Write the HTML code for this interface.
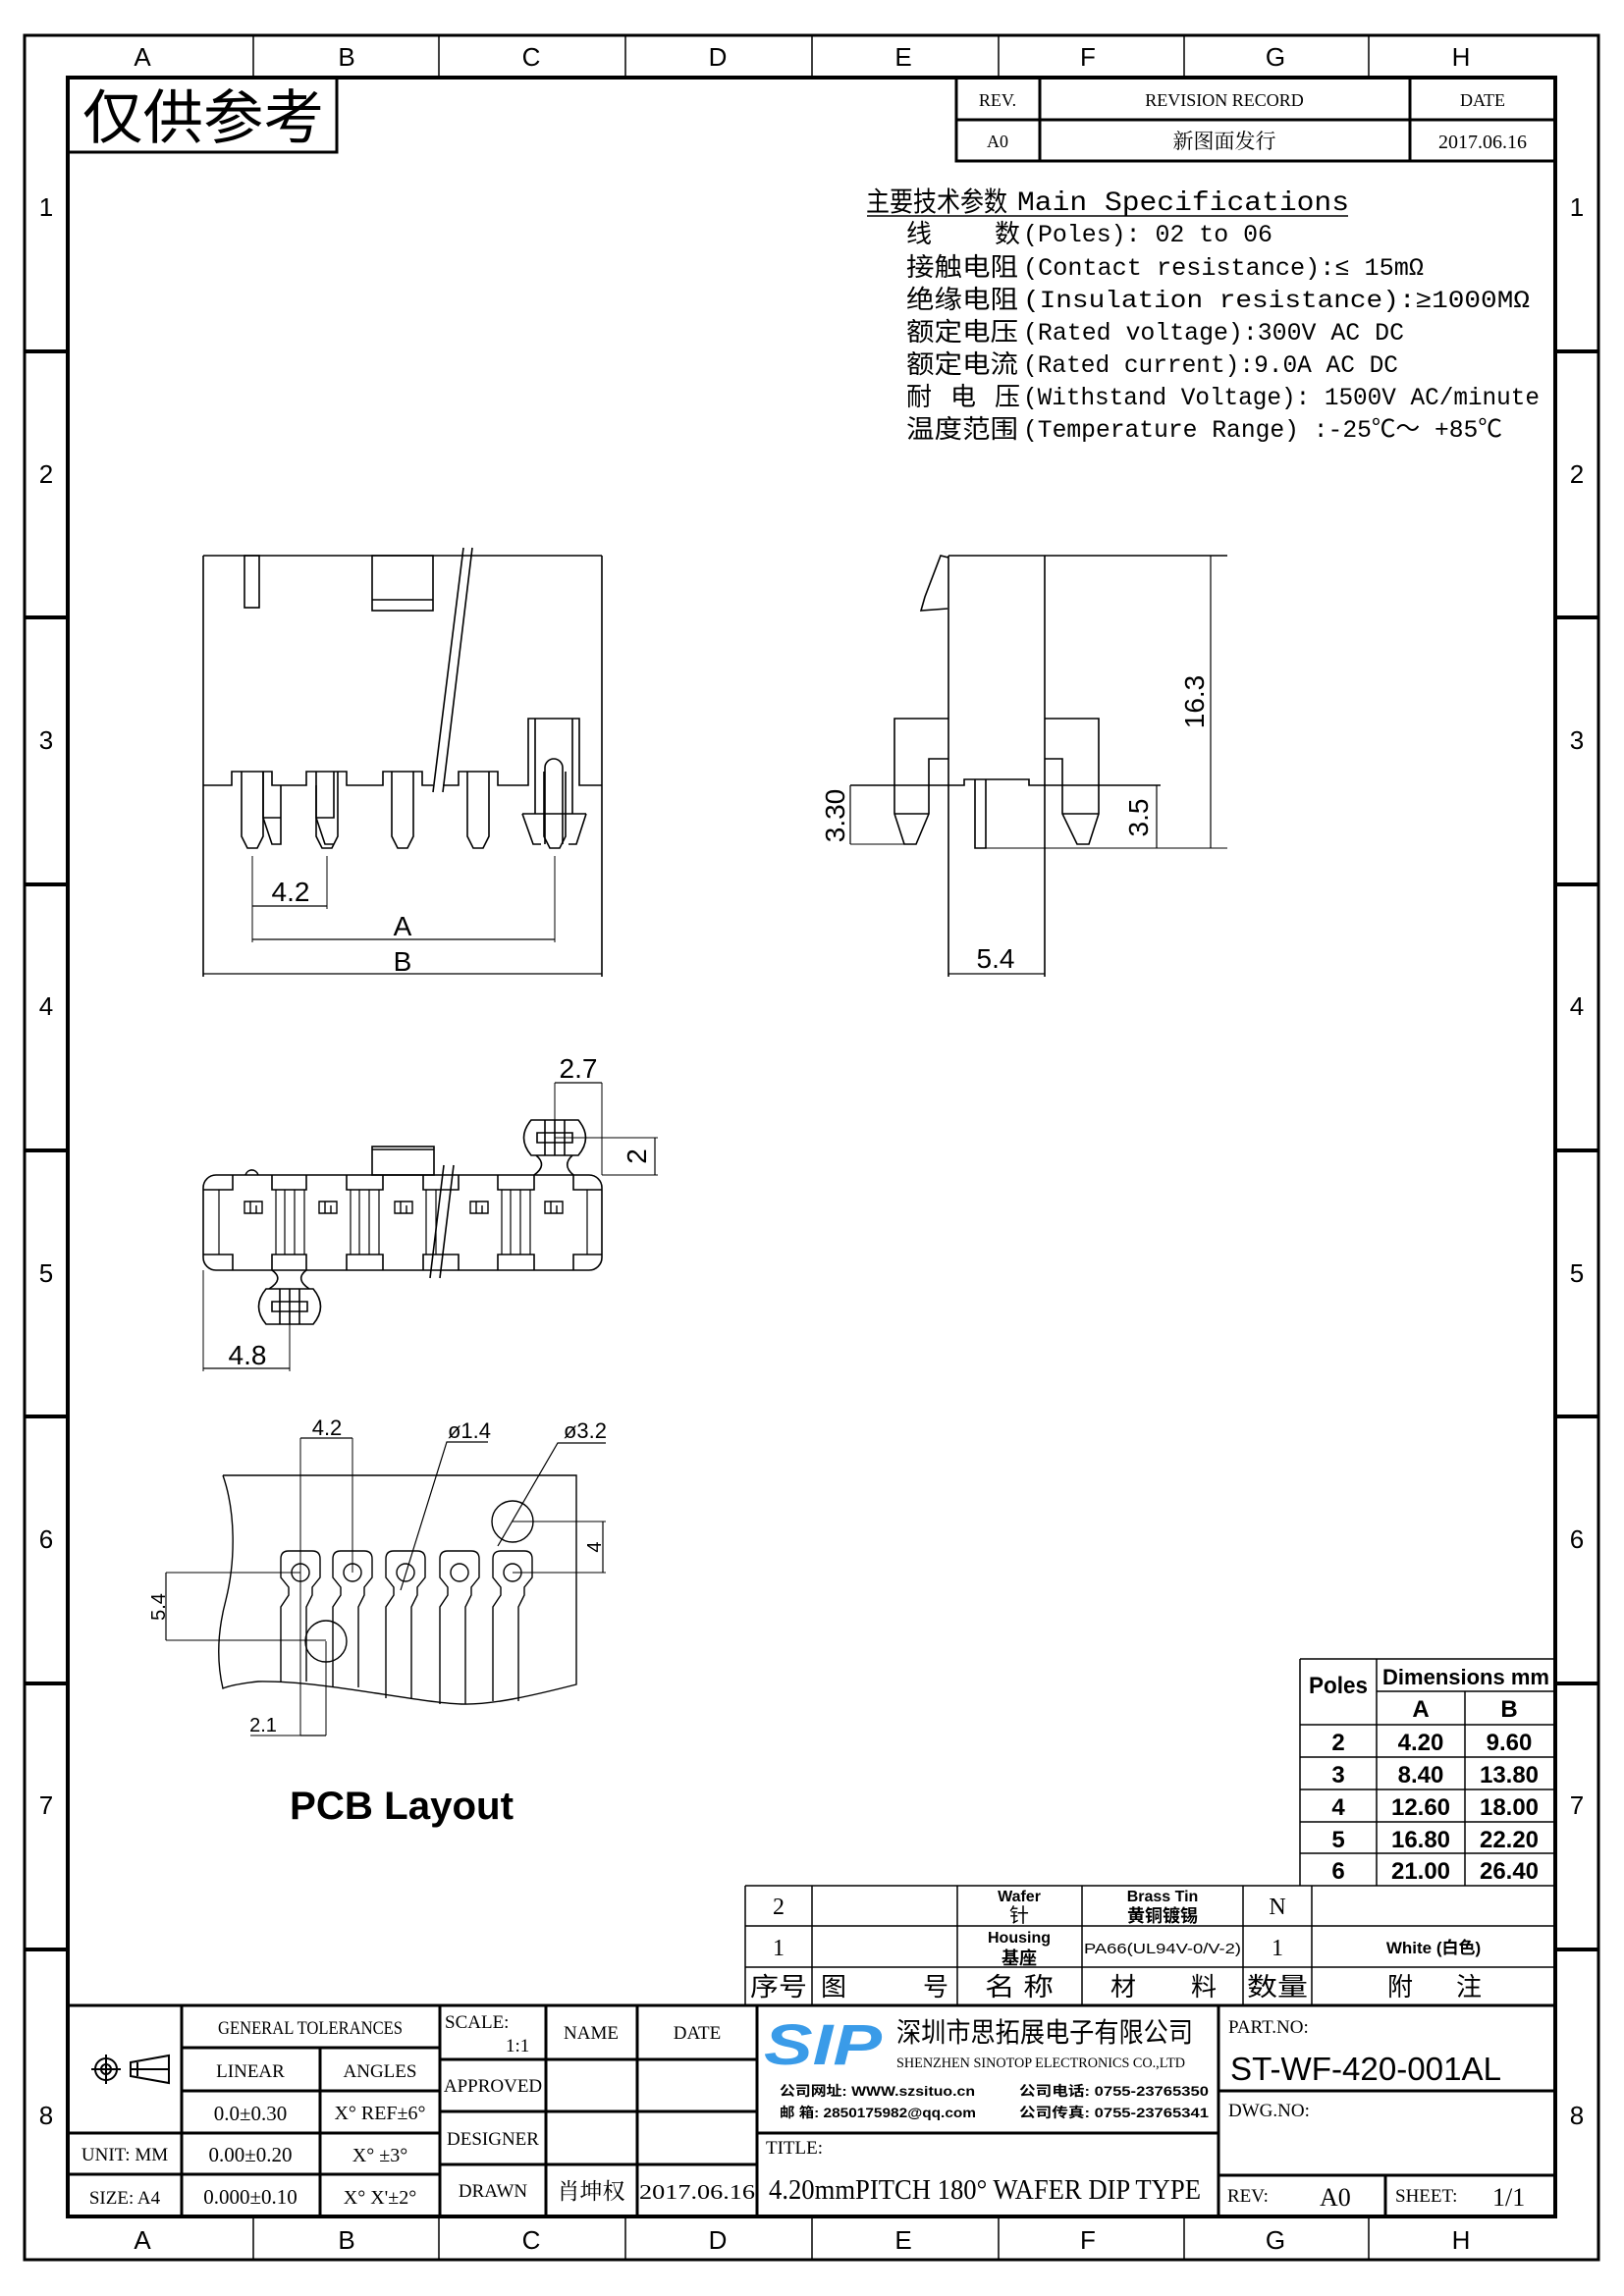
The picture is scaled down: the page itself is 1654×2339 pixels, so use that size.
<!DOCTYPE html>
<html><head><meta charset="utf-8"><style>
html,body{margin:0;padding:0;background:#fff;}
svg{display:block;}
text{font-family:"Liberation Sans","Noto Sans CJK SC",sans-serif;fill:#000;}
.m, .m text{font-family:"Liberation Mono","Noto Sans CJK SC",monospace;}
.s, .s text{font-family:"Liberation Serif","Noto Serif CJK SC",serif;}
</style></head><body>
<svg width="1654" height="2339" viewBox="0 0 1654 2339" xmlns="http://www.w3.org/2000/svg">
<rect width="1654" height="2339" fill="#fff"/>
<g fill="none" stroke="#000">
<rect x="25" y="36" width="1603" height="2266" stroke-width="3"/>
<rect x="69" y="79" width="1515" height="2179" stroke-width="4"/>
<g stroke-width="1.5">
<path d="M258,36V79 M447,36V79 M637,36V79 M827,36V79 M1017,36V79 M1206,36V79 M1394,36V79"/>
<path d="M258,2258V2302 M447,2258V2302 M637,2258V2302 M827,2258V2302 M1017,2258V2302 M1206,2258V2302 M1394,2258V2302"/>
</g>
<g stroke-width="4">
<path d="M25,358H69 M25,629H69 M25,901H69 M25,1172H69 M25,1443H69 M25,1715H69 M25,1986H69"/>
<path d="M1584,358H1628 M1584,629H1628 M1584,901H1628 M1584,1172H1628 M1584,1443H1628 M1584,1715H1628 M1584,1986H1628"/>
</g>
<path d="M343,79V155H69" stroke-width="3"/>
<path d="M974,79V164H1584 M974,122H1584 M1059,79V164 M1436,79V164" stroke-width="3"/>
<path d="M883,220H1373" stroke-width="1.5"/>
</g>
<g font-size="26" text-anchor="middle">
<text x="145" y="67">A</text><text x="353" y="67">B</text><text x="541" y="67">C</text><text x="731" y="67">D</text><text x="920" y="67">E</text><text x="1108" y="67">F</text><text x="1299" y="67">G</text><text x="1488" y="67">H</text>
<text x="145" y="2291">A</text><text x="353" y="2291">B</text><text x="541" y="2291">C</text><text x="731" y="2291">D</text><text x="920" y="2291">E</text><text x="1108" y="2291">F</text><text x="1299" y="2291">G</text><text x="1488" y="2291">H</text>
<text x="47" y="220">1</text><text x="47" y="492">2</text><text x="47" y="763">3</text><text x="47" y="1034">4</text><text x="47" y="1306">5</text><text x="47" y="1577">6</text><text x="47" y="1848">7</text><text x="47" y="2164">8</text>
<text x="1606" y="220">1</text><text x="1606" y="492">2</text><text x="1606" y="763">3</text><text x="1606" y="1034">4</text><text x="1606" y="1306">5</text><text x="1606" y="1577">6</text><text x="1606" y="1848">7</text><text x="1606" y="2164">8</text>
</g>
<text x="84" y="141" font-size="60" textLength="246" lengthAdjust="spacingAndGlyphs">仅供参考</text>
<g font-size="18" text-anchor="middle" class="s">
<text x="1016" y="108">REV.</text><text x="1247" y="108">REVISION RECORD</text><text x="1510" y="108">DATE</text>
<text x="1016" y="150">A0</text><text x="1247" y="151" font-size="21">新图面发行</text><text x="1510" y="151" font-size="20">2017.06.16</text>
</g>
<text x="882" y="215" font-size="28" textLength="144" lengthAdjust="spacingAndGlyphs">主要技术参数</text>
<text x="1036" y="214" class="m" font-size="28" textLength="338" lengthAdjust="spacingAndGlyphs">Main Specifications</text>
<g font-size="26">
<text x="923" y="247">线</text><text x="1013" y="247">数</text>
<text x="923" y="281" textLength="114" lengthAdjust="spacingAndGlyphs">接触电阻</text>
<text x="923" y="314" textLength="114" lengthAdjust="spacingAndGlyphs">绝缘电阻</text>
<text x="923" y="347" textLength="114" lengthAdjust="spacingAndGlyphs">额定电压</text>
<text x="923" y="380" textLength="114" lengthAdjust="spacingAndGlyphs">额定电流</text>
<text x="923" y="413">耐</text><text x="968" y="413">电</text><text x="1013" y="413">压</text>
<text x="923" y="446" textLength="114" lengthAdjust="spacingAndGlyphs">温度范围</text>
</g>
<g font-size="25" class="m">
<text x="1042" y="246" textLength="254" lengthAdjust="spacingAndGlyphs">(Poles): 02 to 06</text>
<text x="1042" y="280" textLength="408" lengthAdjust="spacingAndGlyphs">(Contact resistance):≤ 15mΩ</text>
<text x="1042" y="313" textLength="516" lengthAdjust="spacingAndGlyphs">(Insulation resistance):≥1000MΩ</text>
<text x="1042" y="346" textLength="388" lengthAdjust="spacingAndGlyphs">(Rated voltage):300V AC DC</text>
<text x="1042" y="379" textLength="382" lengthAdjust="spacingAndGlyphs">(Rated current):9.0A AC DC</text>
<text x="1042" y="412" textLength="526" lengthAdjust="spacingAndGlyphs">(Withstand Voltage): 1500V AC/minute</text>
<text x="1042" y="445" textLength="488" lengthAdjust="spacingAndGlyphs">(Temperature Range) :-25℃～ +85℃</text>
</g>

<g fill="none" stroke="#000" stroke-width="1.6">
<path d="M207,566H613 M207,566V995 M613,566V995"/>
<path d="M207,800H236V786H277V800H312V786H353V800H390V786H430V800H441 M451,800H467V786H507V800H538V732H590V800H613"/>
<path d="M545,732V829 M583,732V829 M532,829H597 M532,829L543,860H551 M597,829L587,860H579 M555,860V782A9,9 0 0 1 573,782V860"/>
<path d="M472,558L441,807 M481,558L451,807"/>
<rect x="249" y="566" width="15" height="53"/>
<rect x="379" y="566" width="62" height="56"/><path d="M379,611H441"/>
<path d="M268,786V833H286V800 M268,833L277,860H286V833 M322,800V833H340V786 M322,833L331,860H340"/>
<path d="M246,786V852L252,864H262L268,852V786"/>
<path d="M322,786V852L328,864H338L344,852V786"/>
<path d="M399,786V852L405,864H415L421,852V786"/>
<path d="M476,786V852L482,864H492L498,852V786"/>
<path d="M554,786V852L560,864H570L576,852V786"/>
<path d="M257,872V960 M333,872V926 M565,872V960" stroke-width="1"/>
<path d="M257,923H333 M257,957H565 M207,992H613" stroke-width="1.2"/>
</g>
<g font-size="28" text-anchor="middle" fill="#000">
<text x="296" y="918">4.2</text><text x="410" y="953">A</text><text x="410" y="989">B</text>
</g>

<g fill="none" stroke="#000" stroke-width="1.6">
<path d="M966,566V995 M1064,566V995 M966,566H1250"/>
<path d="M966,568L958,566L942,608L938,622L965,620"/>
<path d="M966,732H911V829L921,860H933L946,829V773H966 M911,829H946"/>
<path d="M1064,732H1119V829L1109,860H1097L1082,829V773H1064 M1082,829H1119"/>
<path d="M866,800H982V794H1048V800H1182"/>
<path d="M993,794V864H1004V794"/>
<path d="M993,864H1250 M866,860H921" stroke-width="1"/>
<path d="M1233,566V864 M866,800V860 M1178,800V864 M966,992H1064" stroke-width="1.2"/>
</g>
<g font-size="28" text-anchor="middle">
<text x="1014" y="986">5.4</text>
<text transform="translate(1226,715) rotate(-90)">16.3</text>
<text transform="translate(860,831) rotate(-90)">3.30</text>
<text transform="translate(1169,833) rotate(-90)">3.5</text>
</g>

<g fill="none" stroke="#000" stroke-width="1.6">
<rect x="207" y="1197" width="406" height="97" rx="13"/>
<path d="M207,1212H237V1197 M277,1197V1212H312V1197 M353,1197V1212H390V1197 M431,1197V1212H467V1197 M507,1197V1212H544V1197 M584,1197V1212H613"/>
<path d="M207,1278H237V1294 M277,1294V1278H312V1294 M353,1294V1278H390V1294 M431,1294V1278H467V1294 M507,1294V1278H544V1294 M584,1294V1278H613"/>
<path d="M223,1212V1278 M598,1212V1278 M281,1212V1278 M290,1212V1278 M300,1212V1278 M310,1212V1278 M357,1212V1278 M366,1212V1278 M376,1212V1278 M386,1212V1278 M434,1212V1278 M444,1212V1278 M511,1212V1278 M520,1212V1278 M530,1212V1278 M540,1212V1278" stroke-width="1.2"/>
<rect x="379" y="1168" width="63" height="29"/><path d="M379,1171H442"/>
<path d="M250,1197A7,8 0 0 1 263,1197"/>
<path d="M452,1187L438,1302 M462,1187L448,1302"/>
<path d="M541,1141H589Q604,1159 589,1177H541Q526,1159 541,1141Z M555,1141V1177 M565,1141V1177 M575,1141V1177 M547,1154H583V1164H547Z"/>
<path d="M546,1177Q558,1187 544,1197 M583,1177Q572,1187 584,1197"/>
<path d="M271,1313H319Q334,1331 319,1349H271Q256,1331 271,1313Z M285,1313V1349 M295,1313V1349 M305,1313V1349 M277,1326H313V1336H277Z"/>
<path d="M277,1294Q290,1303 274,1313 M312,1294Q300,1303 315,1313"/>
</g>
<g fill="none" stroke="#000" stroke-width="1.4">
<path d="M249,1224h18v12h-18z M255,1224v12 M261,1228v8"/>
<path d="M325,1224h18v12h-18z M331,1224v12 M337,1228v8"/>
<path d="M402,1224h18v12h-18z M408,1224v12 M414,1228v8"/>
<path d="M479,1224h18v12h-18z M485,1224v12 M491,1228v8"/>
<path d="M555,1224h18v12h-18z M561,1224v12 M567,1228v8"/>
<path d="M565,1103V1159 M613,1103V1197 M565,1159H670 M613,1197H670 M207,1294V1397 M295,1331V1397" stroke-width="1"/>
<path d="M565,1103H613 M667,1159V1197 M207,1394H295" stroke-width="1.2"/>
</g>
<g font-size="28" text-anchor="middle">
<text x="589" y="1098">2.7</text>
<text transform="translate(658,1178) rotate(-90)">2</text>
<text x="252" y="1390">4.8</text>
</g>

<g fill="none" stroke="#000" stroke-width="1.4">
<path d="M227,1503H587V1716 C540,1728 500,1737 470,1736 C420,1734 330,1712 263,1713 C245,1715 232,1718 227,1720 C220,1690 222,1660 230,1630 C240,1590 240,1540 227,1503"/>
<path d="M286,1713V1637L294,1625V1617L286,1607V1588Q286,1580 294,1580H318Q326,1580 326,1588V1607L318,1617V1625L312,1637V1713"/>
<path d="M339,1719V1637L347,1625V1617L339,1607V1588Q339,1580 347,1580H371Q379,1580 379,1588V1607L371,1617V1625L365,1637V1719"/>
<path d="M393,1730V1637L401,1625V1617L393,1607V1588Q393,1580 401,1580H425Q433,1580 433,1588V1607L425,1617V1625L419,1637V1730"/>
<path d="M448,1736V1637L456,1625V1617L448,1607V1588Q448,1580 456,1580H480Q488,1580 488,1588V1607L480,1617V1625L474,1637V1736"/>
<path d="M502,1733V1637L510,1625V1617L502,1607V1588Q502,1580 510,1580H534Q542,1580 542,1588V1607L534,1617V1625L528,1637V1733"/>
<circle cx="306" cy="1602" r="9"/><circle cx="359" cy="1602" r="9"/><circle cx="413" cy="1602" r="9"/><circle cx="468" cy="1602" r="9"/><circle cx="522" cy="1602" r="9"/>
<circle cx="522" cy="1550" r="21"/><circle cx="332" cy="1672" r="21"/>
<path d="M306,1465V1768 M359,1465V1602 M332,1672V1768 M169,1602H306 M169,1671H332 M522,1550H617 M522,1602H617 M255,1768H332" stroke-width="1"/>
<path d="M306,1465H359 M169,1602V1671 M614,1550V1602 M306,1768H332" stroke-width="1.2"/>
<path d="M408,1620L455,1469H497 M507,1575L568,1470H617" stroke-width="1.2"/>
</g>
<g font-size="22" text-anchor="middle">
<text x="333" y="1462">4.2</text>
<text x="478" y="1465">ø1.4</text>
<text x="596" y="1465">ø3.2</text>
<text x="268" y="1764" font-size="20">2.1</text>
<text transform="translate(612,1576) rotate(-90)" font-size="20">4</text>
<text transform="translate(168,1637) rotate(-90)" font-size="20">5.4</text>
</g>
<text x="295" y="1853" font-size="40" font-weight="bold" textLength="228" lengthAdjust="spacingAndGlyphs">PCB Layout</text>

<g fill="none" stroke="#000" stroke-width="1.5">
<path d="M1324,1690H1584 M1402,1723H1584 M1324,1757H1584 M1324,1790H1584 M1324,1823H1584 M1324,1856H1584 M1324,1888H1584 M1324,1690V1921 M1402,1690V1921 M1492,1723V1921"/>
</g>
<g font-size="24" font-weight="bold" text-anchor="middle">
<text x="1363" y="1725" textLength="60" lengthAdjust="spacingAndGlyphs">Poles</text>
<text x="1493" y="1716" font-size="22" textLength="170" lengthAdjust="spacingAndGlyphs">Dimensions mm</text>
<text x="1447" y="1749">A</text><text x="1537" y="1749">B</text>
<text x="1363" y="1783">2</text><text x="1447" y="1783">4.20</text><text x="1537" y="1783">9.60</text>
<text x="1363" y="1816">3</text><text x="1447" y="1816">8.40</text><text x="1537" y="1816">13.80</text>
<text x="1363" y="1849">4</text><text x="1447" y="1849">12.60</text><text x="1537" y="1849">18.00</text>
<text x="1363" y="1882">5</text><text x="1447" y="1882">16.80</text><text x="1537" y="1882">22.20</text>
<text x="1363" y="1914">6</text><text x="1447" y="1914">21.00</text><text x="1537" y="1914">26.40</text>
</g>

<g fill="none" stroke="#000" stroke-width="1.5">
<path d="M759,1921H1584 M759,1962H1584 M759,2004H1584 M759,1921V2043 M827,1921V2043 M975,1921V2043 M1102,1921V2043 M1266,1921V2043 M1336,1921V2043"/>
</g>
<g text-anchor="middle" font-size="22">
<text x="793" y="1950" class="s" font-size="24">2</text>
<text x="1038" y="1937" font-size="16" font-weight="bold">Wafer</text>
<text x="1038" y="1958" font-size="20">针</text>
<text x="1184" y="1937" font-size="16" font-weight="bold">Brass Tin</text>
<text x="1184" y="1958" font-size="18" font-weight="bold">黄铜镀锡</text>
<text x="1301" y="1950" class="s" font-size="24">N</text>
<text x="793" y="1992" class="s" font-size="24">1</text>
<text x="1038" y="1979" font-size="16" font-weight="bold">Housing</text>
<text x="1038" y="2001" font-size="18" font-weight="bold">基座</text>
<text x="1184" y="1990" font-size="15" textLength="160" lengthAdjust="spacingAndGlyphs">PA66(UL94V-0/V-2)</text>
<text x="1301" y="1992" class="s" font-size="24">1</text>
<text x="1460" y="1990" font-size="17" font-weight="bold">White (白色)</text>
<text x="793" y="2033" font-size="26" textLength="58" lengthAdjust="spacingAndGlyphs">序号</text>
<text x="849" y="2033" font-size="26">图</text><text x="953" y="2033" font-size="26">号</text>
<text x="1038" y="2033" font-size="26" textLength="70" lengthAdjust="spacingAndGlyphs">名 称</text>
<text x="1144" y="2033" font-size="26">材</text><text x="1226" y="2033" font-size="26">料</text>
<text x="1301" y="2033" font-size="26" textLength="62" lengthAdjust="spacingAndGlyphs">数量</text>
<text x="1426" y="2033" font-size="26">附</text><text x="1496" y="2033" font-size="26">注</text>
</g>

<g fill="none" stroke="#000" stroke-width="3">
<path d="M69,2043H1584"/>
<path d="M185,2043V2258 M448,2043V2258 M556,2043V2258 M649,2043V2258 M771,2043V2258 M1241,2043V2258 M326,2086V2258"/>
<path d="M185,2086H448 M185,2130H448 M69,2173H448 M69,2215H448"/>
<path d="M448,2098H771 M448,2151H771 M448,2205H771"/>
<path d="M771,2173H1241 M1241,2130H1584 M1241,2216H1584 M1411,2216V2258"/>
</g>
<g fill="none" stroke="#000" stroke-width="2">
<circle cx="108" cy="2108" r="11"/><circle cx="108" cy="2108" r="5"/>
<path d="M93,2108H123 M108,2093V2123"/>
<path d="M133,2108H173 M133,2101L172,2094V2122L133,2115Z M140,2101V2115"/>
</g>
<g class="s" font-size="19" text-anchor="middle">
<text x="316" y="2072" textLength="188" lengthAdjust="spacingAndGlyphs">GENERAL TOLERANCES</text>
<text x="255" y="2116">LINEAR</text><text x="387" y="2116">ANGLES</text>
<text x="255" y="2160" font-size="21">0.0±0.30</text><text x="387" y="2159" font-size="20">X° REF±6°</text>
<text x="127" y="2201" font-size="19">UNIT: MM</text><text x="255" y="2202" font-size="21">0.00±0.20</text><text x="387" y="2202" font-size="20">X° ±3°</text>
<text x="127" y="2245" font-size="19">SIZE: A4</text><text x="255" y="2245" font-size="21">0.000±0.10</text><text x="387" y="2245" font-size="20">X° X'±2°</text>
<text x="502" y="2131" font-size="19">APPROVED</text>
<text x="502" y="2185" font-size="19">DESIGNER</text>
<text x="502" y="2238" font-size="19">DRAWN</text>
<text x="602" y="2077">NAME</text><text x="710" y="2077">DATE</text>
<text x="602" y="2240" font-size="23">肖坤权</text>
<text x="710" y="2240" font-size="21" textLength="118" lengthAdjust="spacingAndGlyphs">2017.06.16</text>
</g>
<g class="s" font-size="19">
<text x="453" y="2066">SCALE:</text>
<text x="515" y="2090">1:1</text>
<text x="780" y="2194">TITLE:</text>
<text x="1251" y="2071">PART.NO:</text>
<text x="1251" y="2156">DWG.NO:</text>
<text x="1250" y="2243">REV:</text>
<text x="1421" y="2243">SHEET:</text>
<text x="1344" y="2247" font-size="26">A0</text>
<text x="1520" y="2247" font-size="26">1/1</text>
<text x="783" y="2240" font-size="29" textLength="440" lengthAdjust="spacingAndGlyphs">4.20mmPITCH 180° WAFER DIP TYPE</text>
</g>
<text x="1253" y="2119" font-size="33" textLength="276" lengthAdjust="spacingAndGlyphs">ST-WF-420-001AL</text>
<text x="778" y="2103" font-size="58" font-weight="bold" font-style="italic" style="fill:#3a9be8" textLength="120" lengthAdjust="spacingAndGlyphs">SIP</text>
<text x="913" y="2080" font-size="28" textLength="302" lengthAdjust="spacingAndGlyphs">深圳市思拓展电子有限公司</text>
<text x="913" y="2106" font-size="15" class="s" textLength="294" lengthAdjust="spacingAndGlyphs">SHENZHEN SINOTOP ELECTRONICS CO.,LTD</text>
<g font-size="14" font-weight="bold">
<text x="794" y="2135" textLength="199" lengthAdjust="spacingAndGlyphs">公司网址: WWW.szsituo.cn</text>
<text x="1038" y="2135" textLength="193" lengthAdjust="spacingAndGlyphs">公司电话: 0755-23765350</text>
<text x="794" y="2157" textLength="200" lengthAdjust="spacingAndGlyphs">邮    箱: 2850175982@qq.com</text>
<text x="1038" y="2157" textLength="193" lengthAdjust="spacingAndGlyphs">公司传真: 0755-23765341</text>
</g>
</svg>
</body></html>
